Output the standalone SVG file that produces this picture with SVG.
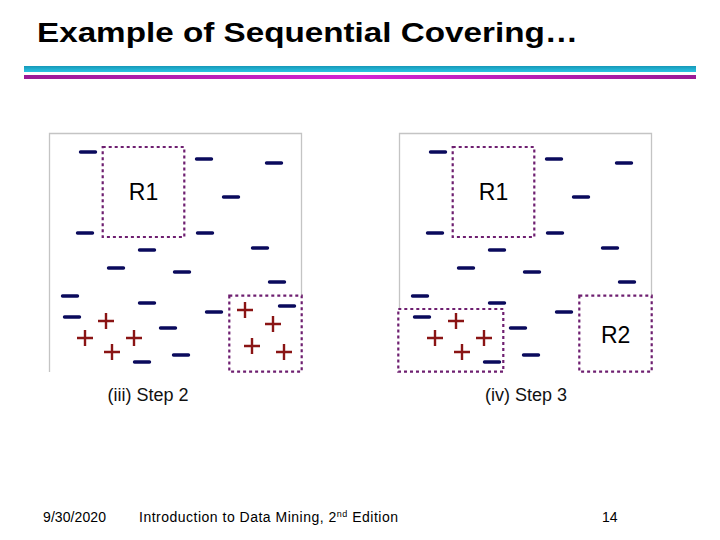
<svg xmlns="http://www.w3.org/2000/svg" xmlns:xlink="http://www.w3.org/1999/xlink" width="720" height="540" viewBox="0 0 720 540">
<style>
.minus{stroke:#0a0a5c;stroke-width:3.4;stroke-linecap:round;fill:none}
.plus{stroke:#8a1414;stroke-width:2.4;fill:none}
.frame{stroke:#c4c4c4;stroke-width:1.3;fill:none}
.box{stroke:#6e1f70;stroke-width:2.2;stroke-dasharray:3 3;fill:none}
.rlab{font-family:"Liberation Sans",Arial,sans-serif;font-size:23px;fill:#000;text-anchor:middle}
.step{font-family:"Liberation Sans",Arial,sans-serif;font-size:18px;fill:#111;text-anchor:middle}
.foot{font-family:"Liberation Sans",Arial,sans-serif;font-size:14px;fill:#000}
.title{font-family:"Liberation Sans",Arial,sans-serif;font-weight:bold;font-size:28px;fill:#000}
</style>
<defs>
<linearGradient id="cy" x1="0" y1="0" x2="0" y2="1"><stop offset="0" stop-color="#1598b8"/><stop offset="1" stop-color="#2cc4e4"/></linearGradient>
<linearGradient id="mg" x1="0" y1="0" x2="1" y2="0"><stop offset="0" stop-color="#9a1a96"/><stop offset="0.5" stop-color="#d424d4"/><stop offset="1" stop-color="#9a1a96"/></linearGradient>
<path id="m" class="minus" d="M-7.5,0H7.5"/>
<path id="p" class="plus" d="M-8,0H8M0,-8V8"/>
</defs>
<text id="title" class="title" x="37" y="42" textLength="541" lengthAdjust="spacingAndGlyphs">Example of Sequential Covering…</text>
<rect x="24" y="66" width="672" height="6" fill="url(#cy)"/>
<rect x="24" y="75" width="672" height="4" fill="url(#mg)"/>

<g id="panel-step2">
<path class="frame" d="M49.5,372V133.5H301.5V296"/>
<g id="p1-minus">
<use href="#m" x="88" y="152"/><use href="#m" x="204" y="159"/><use href="#m" x="274" y="163"/><use href="#m" x="231" y="197"/>
<use href="#m" x="85" y="233"/><use href="#m" x="205" y="233"/><use href="#m" x="147" y="250"/><use href="#m" x="260" y="248"/>
<use href="#m" x="116" y="268"/><use href="#m" x="182" y="272"/><use href="#m" x="277" y="282"/><use href="#m" x="70" y="296"/>
<use href="#m" x="147" y="303"/><use href="#m" x="214" y="312"/><use href="#m" x="287" y="306"/><use href="#m" x="72" y="317"/>
<use href="#m" x="168" y="328"/><use href="#m" x="142" y="362"/><use href="#m" x="181" y="355"/>
</g>
<g id="p1-plus">
<use href="#p" x="106" y="321"/><use href="#p" x="85" y="338"/><use href="#p" x="134" y="338"/><use href="#p" x="112" y="352"/>
<use href="#p" x="245" y="310"/><use href="#p" x="273" y="324"/><use href="#p" x="252" y="346"/><use href="#p" x="284" y="352"/>
</g>
<g id="p1-R1"><rect class="box" x="102.7" y="147" width="81.6" height="90"/><text class="rlab" x="143.5" y="199.5">R1</text></g>
<g id="p1-box2"><rect class="box" x="229.3" y="295.7" width="72.4" height="76"/></g>
<text class="step" x="148" y="400.5">(iii) Step 2</text>
</g>

<g id="panel-step3">
<path class="frame" d="M399.5,309V133.5H651.5V296"/>
<g id="p2-minus">
<use href="#m" x="438" y="152"/><use href="#m" x="554" y="159"/><use href="#m" x="624" y="163"/><use href="#m" x="581" y="197"/>
<use href="#m" x="435" y="233"/><use href="#m" x="555" y="233"/><use href="#m" x="497" y="250"/><use href="#m" x="610" y="248"/>
<use href="#m" x="466" y="268"/><use href="#m" x="532" y="272"/><use href="#m" x="627" y="282"/><use href="#m" x="420" y="296"/>
<use href="#m" x="497" y="303"/><use href="#m" x="564" y="312"/><use href="#m" x="422" y="317"/>
<use href="#m" x="518" y="328"/><use href="#m" x="492" y="362"/><use href="#m" x="531" y="355"/>
</g>
<g id="p2-plus">
<use href="#p" x="456" y="321"/><use href="#p" x="435" y="338"/><use href="#p" x="484" y="338"/><use href="#p" x="462" y="352"/>
</g>
<g id="p2-R1"><rect class="box" x="452.7" y="147" width="81.6" height="90"/><text class="rlab" x="493.5" y="199.5">R1</text></g>
<g id="p2-box"><rect class="box" x="398.3" y="309" width="105" height="62.7"/></g>
<g id="p2-R2"><rect class="box" x="579.3" y="295.7" width="72.4" height="76"/><text class="rlab" x="615.7" y="343">R2</text></g>
<text class="step" x="526" y="400.5">(iv) Step 3</text>
</g>

<g id="footer">
<text class="foot" x="43" y="522" textLength="63">9/30/2020</text>
<text class="foot" x="139" y="522" textLength="259">Introduction to Data Mining, 2<tspan font-size="9" dy="-5">nd</tspan><tspan dy="5"> Edition</tspan></text>
<text class="foot" x="602" y="522">14</text>
</g>
</svg>
